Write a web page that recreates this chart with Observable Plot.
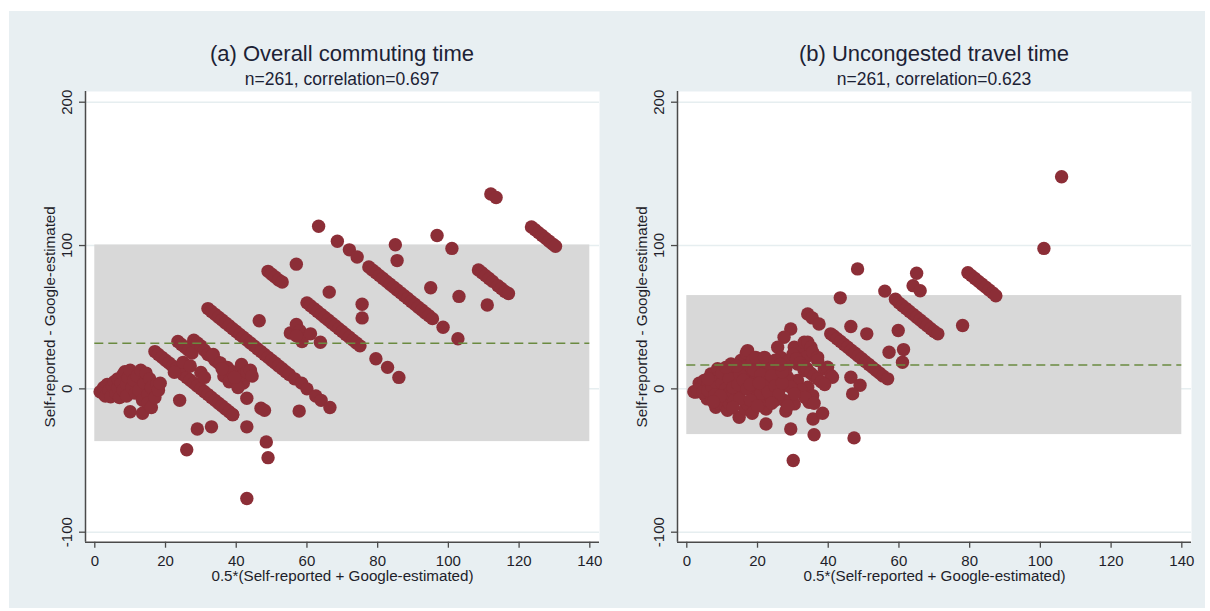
<!DOCTYPE html>
<html>
<head>
<meta charset="utf-8">
<script src="https://cdn.jsdelivr.net/npm/d3@7"></script>
<script src="https://cdn.jsdelivr.net/npm/@observablehq/plot@0.6"></script>
<style>
  html, body { margin: 0; padding: 0; background: #ffffff; width: 1210px; height: 611px; overflow: hidden; }
  body { position: relative; font-family: "Liberation Sans", Arial, sans-serif; }
  #bg { position: absolute; left: 9px; top: 11px; width: 1196px; height: 597px; background: #e8eff2; }
  .title { position: absolute; width: 600px; text-align: center; font-size: 22px; line-height: 22px; color: #1c2235; white-space: nowrap; }
  .subtitle { position: absolute; width: 600px; text-align: center; font-size: 17.5px; line-height: 17.5px; color: #1c2235; white-space: nowrap; }
  .chart { position: absolute; top: 86px; width: 605px; height: 515px; }
</style>
</head>
<body>
<div id="bg"></div>
<div class="title" style="left:42px; top:43px;">(a) Overall commuting time</div>
<div class="subtitle" style="left:42px; top:71px;">n=261, correlation=0.697</div>
<div class="title" style="left:634px; top:43px;">(b) Uncongested travel time</div>
<div class="subtitle" style="left:634px; top:71px;">n=261, correlation=0.623</div>
<div class="chart" id="chartA" style="left:0px;"></div>
<div class="chart" id="chartB" style="left:592px;"></div>
<script>
// ---- Data ----
const xTicks = [0, 20, 40, 60, 80, 100, 120, 140];
const yTicks = [-100, 0, 100, 200];
const xLabel = "0.5*(Self-reported + Google-estimated)";
const yLabel = "Self-reported - Google-estimated";

// (a) Overall commuting time: mean difference and limits of agreement
const commuteMean = 31.8;
const commuteLimits = [-36.8, 100.4];
// (a) points as [x, y]
const commutePoints = [
  [1.5,-2],[2.5,-3.5],[2.5,1],[3.5,3],[3,-5],[4,-1],[4.5,-5.5],[5,2],[5.5,5],[6,-3],[6.5,1],[6.5,7],[7,-6],[7.5,4],[8,10],[8,-1],[8.5,12],[9,3],[9,-5],[9.5,8],[10,13],[10,-16],[10.5,1],[11,6],[11.5,-3],[12,9],[12.5,-1],[13,13],[13.5,-8],[13.5,-17],[14,4],[14.5,11],[15,-4],[15,-10],[15.5,7],[16,-13],[16,1],[17,-6],[17.5,3],[18,-1],[18.5,4],
  [17,26],[18,24],[19,22],[20,20],[21,18],[22,16],[23,14],[24,12],[25,10],[26,8],[27,6],[28,4],[29,2],[30,0],[31,-2],[32,-4],[33,-6],[34,-8],[35,-10],[36,-12],[37,-14],[38,-16],[39,-18],
  [23.5,33],[24.5,31],[25.5,29],[26.5,27],[27.5,25],[28,34],[29,32],[30,30],[31,27],[32,24],[33,23],[34,20],[35,18],[36,16],[37,14],[38,12],[39,10],[40,8],[41,6],[42,4],
  [33.5,24],[35.5,18],[36.5,9],[37.5,15],[38,5],[39,12],[40,4],[40.5,1],[41.5,17],[42,10],[43,12],[44,13],[44.5,9],[39.5,8],[36,14],[25,18.5],[27,16],[22.5,11.5],[30,11.5],[31,8],
  [24,-8],[29,-28],[33,-26.5],[26,-42.5],[43,-6.5],[47,-13.5],[48,-15],[43,-26.5],[48.5,-37],[49,-48],[43,-76.5],[39,-18],[57.8,-15.5],
  [32,56],[33,54],[34,52],[35,50],[36,48],[37,46],[38,44],[39,42],[40,40],[41,38],[42,36],[43,34],[44,32],[45,30],[46,28],[47,26],[48,24],[49,22],[50,20],[51,18],[52,16],[53,14],[54,12],[55,10],[56.5,7],[58.5,4],[60,0],[62.5,-5],[64,-8],[66.5,-13],
  [46.5,47.5],[55.3,39],[57,45],[58,40.5],[58.6,33],[61,38.4],[63.8,32.5],[57,37],
  [49,82],[50,80],[51,78],[52,76],[53,74.5],
  [57,87],[63.3,113.5],[68.6,103],[72,97],[74.2,92],[66.3,67.5],[75.6,59],[75.6,49.5],
  [60,60],[61,58],[62,56],[63,54],[64,52],[65,50],[66,48],[67,46],[68,44],[69,42],[70,40],[71,38],[72,36],[73,34],[74,32],[75,30],[79.5,21],[82.8,15],[86,8],
  [77.5,85],[78.5,83],[79.5,81],[80.5,79],[81.5,77],[82.5,75],[83.5,73],[84.5,71],[85.5,69],[86.5,67],[87.5,65],[88.5,63],[89.5,61],[90.5,59],[91.5,57],[92.5,55],[93.5,53],[94.5,51],[95.5,49],[98.5,43],
  [85,100.5],[85.5,89.5],[96.8,107],[101,98],[95,70.5],[103,64.5],[102.7,35],[111,58.5],[112,136],[113.5,133.5],
  [108.5,83],[109.5,81],[110.5,79],[111.5,77],[112.5,75],[114,72],[115,70],[116,68],[117,66.5],
  [123.5,113],[124.5,111],[125.5,109],[126.5,107],[127.5,105],[128.5,103],[129.5,101],[130.3,99.5]
];

// (b) Uncongested travel time
const freeMean = 16.7;
const freeLimits = [-31.9, 65.1];
const freePoints = [
  [106,148],[101,98],[48.3,83.7],[65,80.7],[64,72],[66,68.5],[56,68.2],[43.4,63.5],[78,44.2],[59.8,40.7],[61.3,27.4],[61,18.6],[57.2,25.5],[46.4,43.5],[50.9,38.4],[46.4,8.1],[49,2.5],[46.9,-3.5],[47.3,-34.2],[30.1,-50],[29.4,-28],[28,-15.5],[36,-32],[35.7,-21],[38.4,-17],[22.4,-24.5],[22.4,-14],[14.8,-19.8],[8.2,-12.8],[30.4,-10.5],[34.6,-9.3],
  [79.5,81],[80.5,79],[81.5,77],[82.5,75],[83.5,73],[84.5,71],[85.5,69],[86.5,67],[87.4,65],
  [59,62.5],[60,60],[61,58],[62,56],[63,54],[64,52],[65,50],[66,48],[67,46],[68,44],[69,42],[70,40],[71,38.4],
  [34.2,52.3],[35.5,49.5],[37.4,45.3],
  [40.7,38.4],[41.5,37],[42.5,35],[43.5,33],[44.5,31],[45.5,29],[46.5,27],[47.5,25],[48.5,23],[49.5,21],[50.5,19],[51.5,17],[52.5,15],[53.5,13],[54.5,11],[55.5,9],[56.8,7],
  [29.4,41.8],[27.5,36],[25.7,29],[30.4,29],[32.3,25.6],[33.2,32.5],[34.2,32.5],[35.1,29],[33.7,22],[35.6,25.6],[37,22],[37,19.8],[38.9,14],[39.8,15.1],[40.8,9.3],[41.2,8.1],[31.3,17.4],[33.2,12.8],[31.3,5.8],[34.2,1.1],[35.6,-4.7],[32.3,-1],[33.5,-6],[36,-10],[28.5,8.1],[26.6,1.1],[29.4,1.1],[30.4,-3.5],[27.5,-8],[28.5,-12],[26.6,22],[24.7,15.1],[28,14],
  [29,20],[30,24],[31,21],[32,18],[33,16],[34,14],[35,11],[36,9],[37,7],[38,5],[39,3],
  [2,-2],[2.5,-2.3],[3.5,4],[4,1],[4.9,5.8],[5,-4],[5.8,-7],[6,3],[6.8,10.4],[7,-6],[7.7,1.1],[8.7,14],[8.7,-1.2],[9,8],[9,-10],[9.6,5.8],[10,-8],[10.5,2],[11,-12],[11.5,3.5],[11.5,10.4],[11.5,-15],[12,-10],[12.5,17.4],[12.5,-5.8],[13,6],[13.5,12],[14,-4],[14.3,8.1],[15.3,19.8],[15.3,-1.2],[16,2],[16.2,15.1],[16.5,-14],[16.8,25],[17.2,26.7],[17.2,5.8],[17.2,-10.5],[17.5,12],[18.1,10.4],[18.5,-17],[18.6,19.8],[19,-5],[19.5,7],[20,1.1],[20,15.1],[20.9,19.8],[20.9,-9.3],[21,-3],[21.9,5.8],[22,8],[22.8,12.8],[23,18],[23.8,1.1],[23.8,-5.8],[24.5,5],[25,-8],[26,10],
  [3,-1],[4.5,-2],[6,-1],[7,2],[8,5],[8,-4],[10,4],[10,11],[11,0],[12,-3],[12,7],[13,1],[13.5,-8],[14.5,3],[15,10],[15,-7],[16,6],[17,0],[18,3],[18,-8],[19,13],[19.5,22],[20,-12],[21,10],[22,2],[22,22],[23,-2],[24,9],[25,2],[25,20],[26,-4],[27,4],[27,12],[14,16],[6,7],[9.5,-5],[11,15],[13,-13],[7.5,-9],[20.5,4],[24,-10],[26.5,17]
];

const xDomain = [-2.63, 142.74];
const yDomain = [-106.98, 207.47];

// ---- Styles ----
const dotColor = "#8c2e37";
const bandColor = "#d8d8d8";
const meanColor = "#6a8a40";
const gridColor = "#e6eef0";
const axisColor = "#4a4a4a";
const textColor = "#1e1e2a";

function panel(points, mean, limits) {
  return Plot.plot({
    width: 605,
    height: 515,
    marginTop: 5,
    marginBottom: 59.3,
    marginLeft: 85,
    marginRight: 6,
    x: {domain: xDomain},
    y: {domain: yDomain},
    style: {background: "transparent", fontFamily: "'Liberation Sans', Arial, sans-serif", color: textColor, overflow: "visible"},
    marks: [
      Plot.frame({fill: "white"}),
      Plot.ruleY(yTicks, {stroke: gridColor, strokeWidth: 1.5}),
      Plot.rect([limits], {x1: () => xTicks[0], x2: () => xTicks[xTicks.length - 1], y1: d => d[0], y2: d => d[1], fill: bandColor}),
      Plot.dot(points, {x: d => d[0], y: d => d[1], r: 6.7, fill: dotColor, stroke: "none"}),
      Plot.ruleY([mean], {x1: xTicks[0], x2: xTicks[xTicks.length - 1], stroke: meanColor, strokeWidth: 1.5, strokeDasharray: "9,5"}),
      Plot.ruleX([xDomain[0]], {stroke: axisColor, strokeWidth: 1.5}),
      Plot.ruleY([yDomain[0]], {stroke: axisColor, strokeWidth: 1.5}),
      Plot.axisX({ticks: xTicks, tickSize: 6, tickPadding: 7.5, fontSize: 15, label: null, stroke: axisColor, strokeWidth: 1.3}),
      Plot.axisY({ticks: yTicks, tickSize: 6, tickFormat: () => "", label: null, stroke: axisColor, strokeWidth: 1.3}),
      Plot.text(yTicks, {y: d => d, frameAnchor: "left", text: d => String(d), rotate: -90, dx: -18, fontSize: 15, textAnchor: "middle", lineAnchor: "middle", fill: textColor}),
      Plot.text([xLabel], {frameAnchor: "bottom", text: d => d, dy: 34.3, fontSize: 15.2, textAnchor: "middle", lineAnchor: "middle", fill: textColor}),
      Plot.text([yLabel], {frameAnchor: "left", text: d => d, rotate: -90, dx: -35, fontSize: 15.2, textAnchor: "middle", lineAnchor: "middle", fill: textColor})
    ]
  });
}

document.getElementById("chartA").appendChild(panel(commutePoints, commuteMean, commuteLimits));
document.getElementById("chartB").appendChild(panel(freePoints, freeMean, freeLimits));
</script>
</body>
</html>
